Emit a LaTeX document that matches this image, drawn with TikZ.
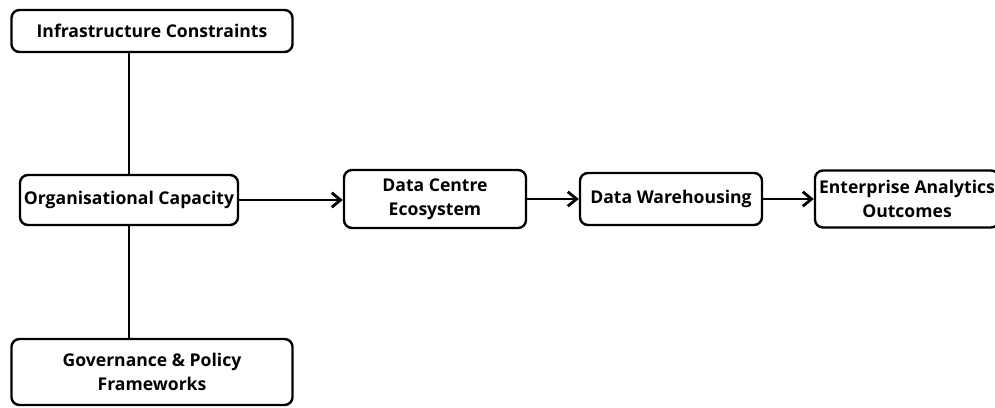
\documentclass[tikz,border=0pt]{standalone}
\usepackage{fontspec}
\setmainfont{Open Sans}
\usetikzlibrary{positioning,arrows.meta}

\begin{document}
\begin{tikzpicture}[x=0.025cm, y=-0.025cm,
      box/.style={draw, rounded corners=0.2cm, line width=1.7pt, align=center,
          inner sep=0pt, font=\fontsize{12.5}{17}\selectfont\bfseries},
      link/.style={line width=2pt},
      flow/.style={line width=2pt, -{Straight Barb[length=2.2mm, width=3.6mm]}}]

      % frame of the page
      \useasboundingbox (0,0) rectangle (995,408);

      % factors on the left
      \node(infra)[box, minimum width=7.025cm, minimum height=1.05cm] at (152,31)
          {Infrastructure Constraints};
      \node(capacity)[box, minimum width=5.45cm, minimum height=1.25cm] at (129,200)
          {Organisational Capacity};
      \node(governance)[box, minimum width=7.025cm, minimum height=1.65cm] at (152,372)
          {Governance \& Policy\\Frameworks};

      % chain to the right
      \node(centre)[box, minimum width=4.55cm, minimum height=1.45cm] at (435,199)
          {Data Centre\\Ecosystem};
      \node(warehouse)[box, minimum width=4.55cm, minimum height=1.3cm] at (671,199)
          {Data Warehousing};
      \node(outcomes)[box, minimum width=4.6cm, minimum height=1.425cm] at (907,199)
          {Enterprise Analytics\\Outcomes};

      % vertical links
      \draw[link] (infra.south -| capacity.north) -- (capacity.north);
      \draw[link] (capacity.south) -- (governance.north -| capacity.south);

      % arrows along the chain
      \draw[flow] (capacity.east) -- (capacity.east -| centre.west);
      \draw[flow] (centre.east) -- (warehouse.west);
      \draw[flow] (warehouse.east) -- (outcomes.west);

\end{tikzpicture}
\end{document}
